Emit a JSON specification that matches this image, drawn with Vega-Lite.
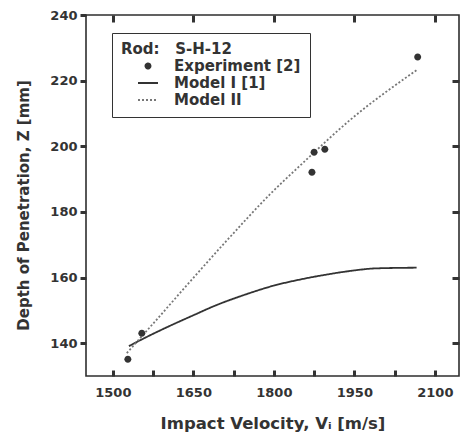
{
  "$schema": "https://vega.github.io/schema/vega-lite/v6.json",
  "width": 373,
  "height": 361,
  "autosize": {"type": "none"},
  "padding": {"left": 86, "top": 15, "right": 4, "bottom": 63},
  "config": {
    "font": "DejaVu Sans",
    "view": {"stroke": "#2e2e2e", "strokeWidth": 1.6},
    "axis": {
      "grid": false,
      "domain": false,
      "ticks": true,
      "tickColor": "#333333",
      "tickWidth": 3,
      "labelFont": "DejaVu Sans",
      "labelFontWeight": "bold",
      "labelFontSize": 13,
      "labelColor": "#333333",
      "titleFont": "DejaVu Sans",
      "titleFontWeight": "bold",
      "titleFontSize": 15,
      "titleColor": "#333333"
    },
    "legend": {
      "labelFont": "DejaVu Sans",
      "labelFontWeight": "bold",
      "labelFontSize": 15,
      "labelColor": "#333333",
      "titleFont": "DejaVu Sans",
      "titleFontWeight": "bold",
      "titleFontSize": 15,
      "titleColor": "#333333"
    }
  },
  "data": {
    "values": [
      {"series": "Experiment [2]", "v": 1528, "z": 135.1},
      {"series": "Experiment [2]", "v": 1554, "z": 143.0},
      {"series": "Experiment [2]", "v": 1871, "z": 192.1},
      {"series": "Experiment [2]", "v": 1875, "z": 198.2},
      {"series": "Experiment [2]", "v": 1895, "z": 199.1},
      {"series": "Experiment [2]", "v": 2068, "z": 227.2},
      {"series": "Model I [1]", "v": 1530, "z": 139.1},
      {"series": "Model I [1]", "v": 1557, "z": 141.4},
      {"series": "Model I [1]", "v": 1600, "z": 144.8},
      {"series": "Model I [1]", "v": 1650, "z": 148.5},
      {"series": "Model I [1]", "v": 1693, "z": 151.6},
      {"series": "Model I [1]", "v": 1743, "z": 154.6},
      {"series": "Model I [1]", "v": 1799, "z": 157.5},
      {"series": "Model I [1]", "v": 1849, "z": 159.4},
      {"series": "Model I [1]", "v": 1898, "z": 160.9},
      {"series": "Model I [1]", "v": 1942, "z": 162.0},
      {"series": "Model I [1]", "v": 1991, "z": 162.8},
      {"series": "Model I [1]", "v": 2066, "z": 163.0},
      {"series": "Model II", "v": 1526, "z": 137.0},
      {"series": "Model II", "v": 1554, "z": 142.1},
      {"series": "Model II", "v": 1713, "z": 171.4},
      {"series": "Model II", "v": 1793, "z": 185.4},
      {"series": "Model II", "v": 1854, "z": 194.9},
      {"series": "Model II", "v": 1942, "z": 208.0},
      {"series": "Model II", "v": 2066, "z": 223.2}
    ]
  },
  "layer": [
    {
      "transform": [{"filter": "datum.series !== 'Experiment [2]'"}],
      "mark": {"type": "line", "interpolate": "monotone"},
      "encoding": {
        "x": {
          "field": "v", "type": "quantitative",
          "scale": {"domain": [1450, 2145], "nice": false, "zero": false},
          "axis": {
            "orient": "bottom",
            "offset": -6,
            "title": "Impact Velocity, Vᵢ [m/s]",
            "titleFontSize": 16.5,
            "titleY": 53,
            "titleBaseline": "middle",
            "format": "d",
            "values": [1500, 1575, 1650, 1725, 1800, 1875, 1950, 2025, 2100],
            "labelExpr": "datum.value % 150 === 0 ? datum.label : ''",
            "tickSize": 6,
            "labelPadding": 10
          }
        },
        "y": {
          "field": "z", "type": "quantitative",
          "scale": {"domain": [130, 240], "nice": false, "zero": false},
          "axis": {
            "orient": "left",
            "title": "Depth of Penetration, Z [mm]",
            "titleX": -63,
            "titleY": 190,
            "titleBaseline": "middle",
            "values": [140, 160, 180, 200, 220, 240],
            "tickSize": 6,
            "labelPadding": 3
          }
        },
        "strokeDash": {
          "field": "series", "type": "nominal",
          "scale": {
            "domain": ["Experiment [2]", "Model I [1]", "Model II"],
            "range": [[1, 0], [1, 0], [2, 2]]
          },
          "legend": {
            "orient": "none", "legendX": 26, "legendY": 18,
            "title": "Rod:\u00a0\u00a0\u00a0S-H-12",
            "strokeColor": "#333333", "padding": 9,
            "symbolSize": 256, "symbolOffset": 18, "labelOffset": 17,
            "symbolStrokeWidth": 1.6, "symbolStrokeColor": "#333333",
            "rowPadding": 0, "titlePadding": 0
          }
        },
        "color": {
          "field": "series", "type": "nominal",
          "scale": {
            "domain": ["Experiment [2]", "Model I [1]", "Model II"],
            "range": ["#333333", "#333333", "#777777"]
          },
          "legend": {
            "orient": "none", "legendX": 26, "legendY": 18,
            "title": "Rod:\u00a0\u00a0\u00a0S-H-12"
          }
        },
        "strokeWidth": {
          "field": "series", "type": "nominal",
          "scale": {
            "domain": ["Experiment [2]", "Model I [1]", "Model II"],
            "range": [1.8, 1.8, 1.1]
          },
          "legend": null
        }
      }
    },
    {
      "transform": [{"filter": "datum.series === 'Experiment [2]'"}],
      "mark": {"type": "point", "filled": true, "size": 480, "opacity": 1},
      "encoding": {
        "x": {
          "field": "v", "type": "quantitative",
          "axis": {
            "orient": "top", "title": null, "labels": false,
            "values": [1500, 1650, 1800, 1950, 2100],
            "offset": -7,
            "tickSize": 7
          }
        },
        "y": {
          "field": "z", "type": "quantitative",
          "axis": {
            "orient": "right", "title": null, "labels": false,
            "values": [140, 160, 180, 200, 220],
            "offset": -7,
            "tickSize": 7
          }
        },
        "shape": {
          "field": "series", "type": "nominal",
          "scale": {
            "domain": ["Experiment [2]", "Model I [1]", "Model II"],
            "range": [
              "M-0.32,0A0.32,0.32 0 1,0 0.32,0A0.32,0.32 0 1,0 -0.32,0Z",
              "M-1.25,0H1.25",
              "M-1.25,0H1.25"
            ]
          },
          "legend": {
            "orient": "none", "legendX": 26, "legendY": 18,
            "title": "Rod:\u00a0\u00a0\u00a0S-H-12"
          }
        },
        "color": {
          "field": "series", "type": "nominal",
          "scale": {
            "domain": ["Experiment [2]", "Model I [1]", "Model II"],
            "range": ["#333333", "#333333", "#777777"]
          }
        }
      }
    }
  ],
  "resolve": {"axis": {"x": "independent", "y": "independent"}}
}
